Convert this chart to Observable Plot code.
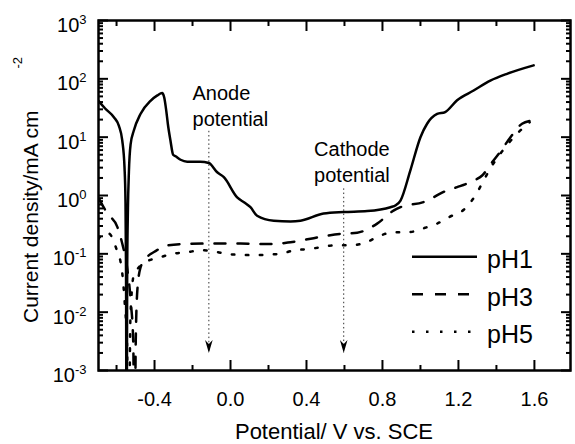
<!DOCTYPE html>
<html><head><meta charset="utf-8">
<script src="https://cdn.jsdelivr.net/npm/d3@7"></script>
<script src="https://cdn.jsdelivr.net/npm/@observablehq/plot@0.6"></script>
<style>
html,body{margin:0;padding:0;background:#fff;}
#chart{position:relative;width:575px;height:444px;}
</style></head><body><div id="chart"></div>
<script>
// ---- data ----
const pH1Potential = [-0.695, -0.66, -0.614, -0.588, -0.57, -0.558, -0.553, -0.55, -0.547, -0.544, -0.54, -0.535, -0.526, -0.509, -0.474, -0.421, -0.385, -0.36, -0.349, -0.338, -0.33, -0.316, -0.302, -0.289, -0.263, -0.228, -0.16, -0.114, -0.07, -0.035, 0.035, 0.075, 0.105, 0.14, 0.228, 0.316, 0.368, 0.49, 0.596, 0.72, 0.842, 0.87, 0.895, 0.947, 1.0, 1.035, 1.088, 1.13, 1.193, 1.28, 1.368, 1.456, 1.596];
const pH1Current   = [42, 31, 22, 15.8, 8.8, 3.0, 0.82, 0.05, 0.00001, 0.05, 0.6, 2.5, 7.5, 13, 25, 42, 52, 57, 48, 28, 17, 8.7, 5.0, 4.7, 4.1, 3.8, 3.8, 3.6, 2.5, 2.06, 0.93, 0.75, 0.63, 0.45, 0.37, 0.36, 0.37, 0.49, 0.52, 0.54, 0.63, 0.68, 0.82, 2.7, 10, 17, 25, 27, 43, 63, 93, 122, 170];

const pH3Potential = [-0.69, -0.65, -0.596, -0.57, -0.545, -0.525, -0.512, -0.505, -0.499, -0.49, -0.474, -0.456, -0.384, -0.358, -0.247, -0.105, 0.053, 0.21, 0.316, 0.49, 0.58, 0.667, 0.772, 0.858, 0.895, 1.016, 1.14, 1.193, 1.28, 1.325, 1.377, 1.42, 1.474, 1.535, 1.575];
const pH3Current   = [0.85, 0.5, 0.29, 0.15, 0.06, 0.015, 0.003, 0.00001, 0.003, 0.025, 0.058, 0.075, 0.117, 0.134, 0.147, 0.15, 0.15, 0.147, 0.158, 0.2, 0.22, 0.23, 0.33, 0.55, 0.63, 0.77, 1.22, 1.39, 1.8, 2.2, 3.7, 5.6, 10, 17, 19];

const pH5Potential = [-0.695, -0.66, -0.637, -0.6, -0.579, -0.567, -0.556, -0.545, -0.537, -0.527, -0.509, -0.447, -0.377, -0.307, -0.228, -0.149, -0.07, 0.0, 0.105, 0.263, 0.333, 0.404, 0.56, 0.63, 0.71, 0.78, 0.86, 0.938, 1.009, 1.088, 1.153, 1.228, 1.289, 1.33, 1.372, 1.426, 1.5, 1.575];
const pH5Current   = [0.18, 0.23, 0.22, 0.12, 0.073, 0.038, 0.013, 0.003, 0.00001, 0.008, 0.043, 0.072, 0.086, 0.1, 0.107, 0.115, 0.107, 0.098, 0.095, 0.1, 0.115, 0.12, 0.14, 0.14, 0.155, 0.2, 0.235, 0.235, 0.27, 0.33, 0.43, 0.57, 1.0, 1.74, 3.06, 5.5, 10.7, 18];

const seriesNames = ["pH1", "pH3", "pH5"];

const xMajorTicks = [-0.4, 0.0, 0.4, 0.8, 1.2, 1.6];
const xMinorTicks = [-0.6, -0.2, 0.2, 0.6, 1.0, 1.4];
const yDecadeTicks = [1e-3, 1e-2, 1e-1, 1, 10, 100, 1000];
const yMinorMultipliers = [2, 3, 4, 5, 6, 7, 8, 9];

const annotationText = ["Anode\npotential", "Cathode\npotential"];
const annotationPotential = [-0.2, 0.44];
const annotationCurrent = [90, 10];
const arrowPotential = [-0.114, 0.596];
const arrowTopCurrent = [12.6, 1.3];
const arrowTipCurrent = [0.002, 0.002];

const xTitle = "Potential/ V vs. SCE";
const yTitle = "Current density/mA cm";
const yTitleSup = "-2";

// ---- build tables ----
const toRows = (xs, ys) => xs.map((x, i) => ({potential: x, current: ys[i]}));
const pH1 = toRows(pH1Potential, pH1Current);
const pH3 = toRows(pH3Potential, pH3Current);
const pH5 = toRows(pH5Potential, pH5Current);
const annotations = annotationText.map((t, i) => ({text: t, x: annotationPotential[i], y: annotationCurrent[i]}));
const arrows = arrowPotential.map((x, i) => ({x, top: arrowTopCurrent[i], tip: arrowTipCurrent[i]}));
const yMinorTicks = yDecadeTicks.slice(0, -1).flatMap(d => yMinorMultipliers.map(m => d * m));

const font = "'Liberation Sans', Arial, Helvetica, sans-serif";
const dashStyles = {pH1: null, pH3: "11,12", pH5: "2.5,11.5"};

const arrowHead = {
  draw(ctx) {
    ctx.moveTo(0, 0);
    ctx.lineTo(-3.8, -13);
    ctx.lineTo(0, -9);
    ctx.lineTo(3.8, -13);
    ctx.closePath();
  }
};

const lineOpts = (dash) => ({x: "potential", y: "current", stroke: "black", strokeWidth: 2.5, curve: "monotone-x", clip: true, strokeDasharray: dash});
const empty = () => "";

const chart = Plot.plot({
  width: 575, height: 444,
  marginLeft: 98, marginRight: 5, marginTop: 20, marginBottom: 74,
  style: {fontFamily: font, color: "black", background: "white"},
  x: {domain: [-0.695, 1.79]},
  y: {type: "log", domain: [1e-3, 1e3]},
  marks: [
    Plot.line(pH1, lineOpts(dashStyles.pH1)),
    Plot.line(pH3, lineOpts(dashStyles.pH3)),
    Plot.line(pH5, lineOpts(dashStyles.pH5)),
    Plot.ruleX(arrows, {x: "x", y1: "top", y2: "tip", stroke: "#333", strokeWidth: 1, strokeDasharray: "1.5,2.7"}),
    Plot.dot(arrows, {x: "x", y: "tip", symbol: arrowHead, fill: "black", stroke: "none"}),
    Plot.text(annotations, {x: "x", y: "y", text: "text", textAnchor: "start", lineAnchor: "top", fontSize: 20, lineHeight: 1.3, fill: "black"}),
    // ticks (inward) on all four sides
    Plot.axisX({anchor: "bottom", ticks: xMajorTicks, tickSize: 10, dy: -10, tickFormat: empty, strokeWidth: 2, label: null}),
    Plot.axisX({anchor: "bottom", ticks: xMinorTicks, tickSize: 5, dy: -5, tickFormat: empty, strokeWidth: 2, label: null}),
    Plot.axisX({anchor: "top", ticks: xMajorTicks, tickSize: 10, dy: 10, tickFormat: empty, strokeWidth: 2, label: null}),
    Plot.axisX({anchor: "top", ticks: xMinorTicks, tickSize: 5, dy: 5, tickFormat: empty, strokeWidth: 2, label: null}),
    Plot.axisY({anchor: "left", ticks: yDecadeTicks, tickSize: 10, dx: 10, tickFormat: empty, strokeWidth: 2, label: null}),
    Plot.axisY({anchor: "left", ticks: yMinorTicks, tickSize: 5, dx: 5, tickFormat: empty, strokeWidth: 2, label: null}),
    Plot.axisY({anchor: "right", ticks: yDecadeTicks, tickSize: 10, dx: -10, tickFormat: empty, strokeWidth: 2, label: null}),
    Plot.axisY({anchor: "right", ticks: yMinorTicks, tickSize: 5, dx: -5, tickFormat: empty, strokeWidth: 2, label: null}),
    // tick labels
    Plot.axisX({anchor: "bottom", ticks: xMajorTicks, tickSize: 0, tickPadding: 21, tickFormat: d => d.toFixed(1), fontSize: 20, label: null}),
    Plot.axisY({anchor: "left", ticks: yDecadeTicks, tickSize: 0, tickPadding: 12, dy: 5, tickFormat: d => String(Math.round(Math.log10(d))), fontSize: 20, label: null}),
    Plot.frame({stroke: "black", strokeWidth: 2.5})
  ]
});

// superscript exponents on y tick labels
d3.select(chart).selectAll('g[aria-label="y-axis tick label"] text').each(function () {
  const e = this.textContent;
  if (!e) return;
  this.textContent = "10";
  d3.select(this).append("tspan").attr("dy", "-0.6em").attr("font-size", "13px").text(e);
});

const svg = d3.select(chart);
// axis titles
svg.append("text").attr("x", 334).attr("y", 439).attr("text-anchor", "middle")
  .attr("font-size", 22).attr("fill", "black").text(xTitle);
const yt = svg.append("text").attr("transform", "translate(38,323) rotate(-90)")
  .attr("text-anchor", "start").attr("font-size", 21).attr("fill", "black").text(yTitle);
yt.append("tspan").attr("dx", 42).attr("dy", -16).attr("font-size", 13).text(yTitleSup);

// legend
const legendRowY = [256.7, 294.3, 331.7];
seriesNames.forEach((name, i) => {
  svg.append("line").attr("x1", 412).attr("x2", 477).attr("y1", legendRowY[i]).attr("y2", legendRowY[i])
    .attr("stroke", "black").attr("stroke-width", 2.5).attr("stroke-dasharray", dashStyles[name]);
  svg.append("text").attr("x", 487).attr("y", legendRowY[i] + 11.5).attr("text-anchor", "start")
    .attr("font-size", 25).attr("fill", "black").text(name);
});

document.getElementById("chart").appendChild(chart);
</script>
</body></html>
